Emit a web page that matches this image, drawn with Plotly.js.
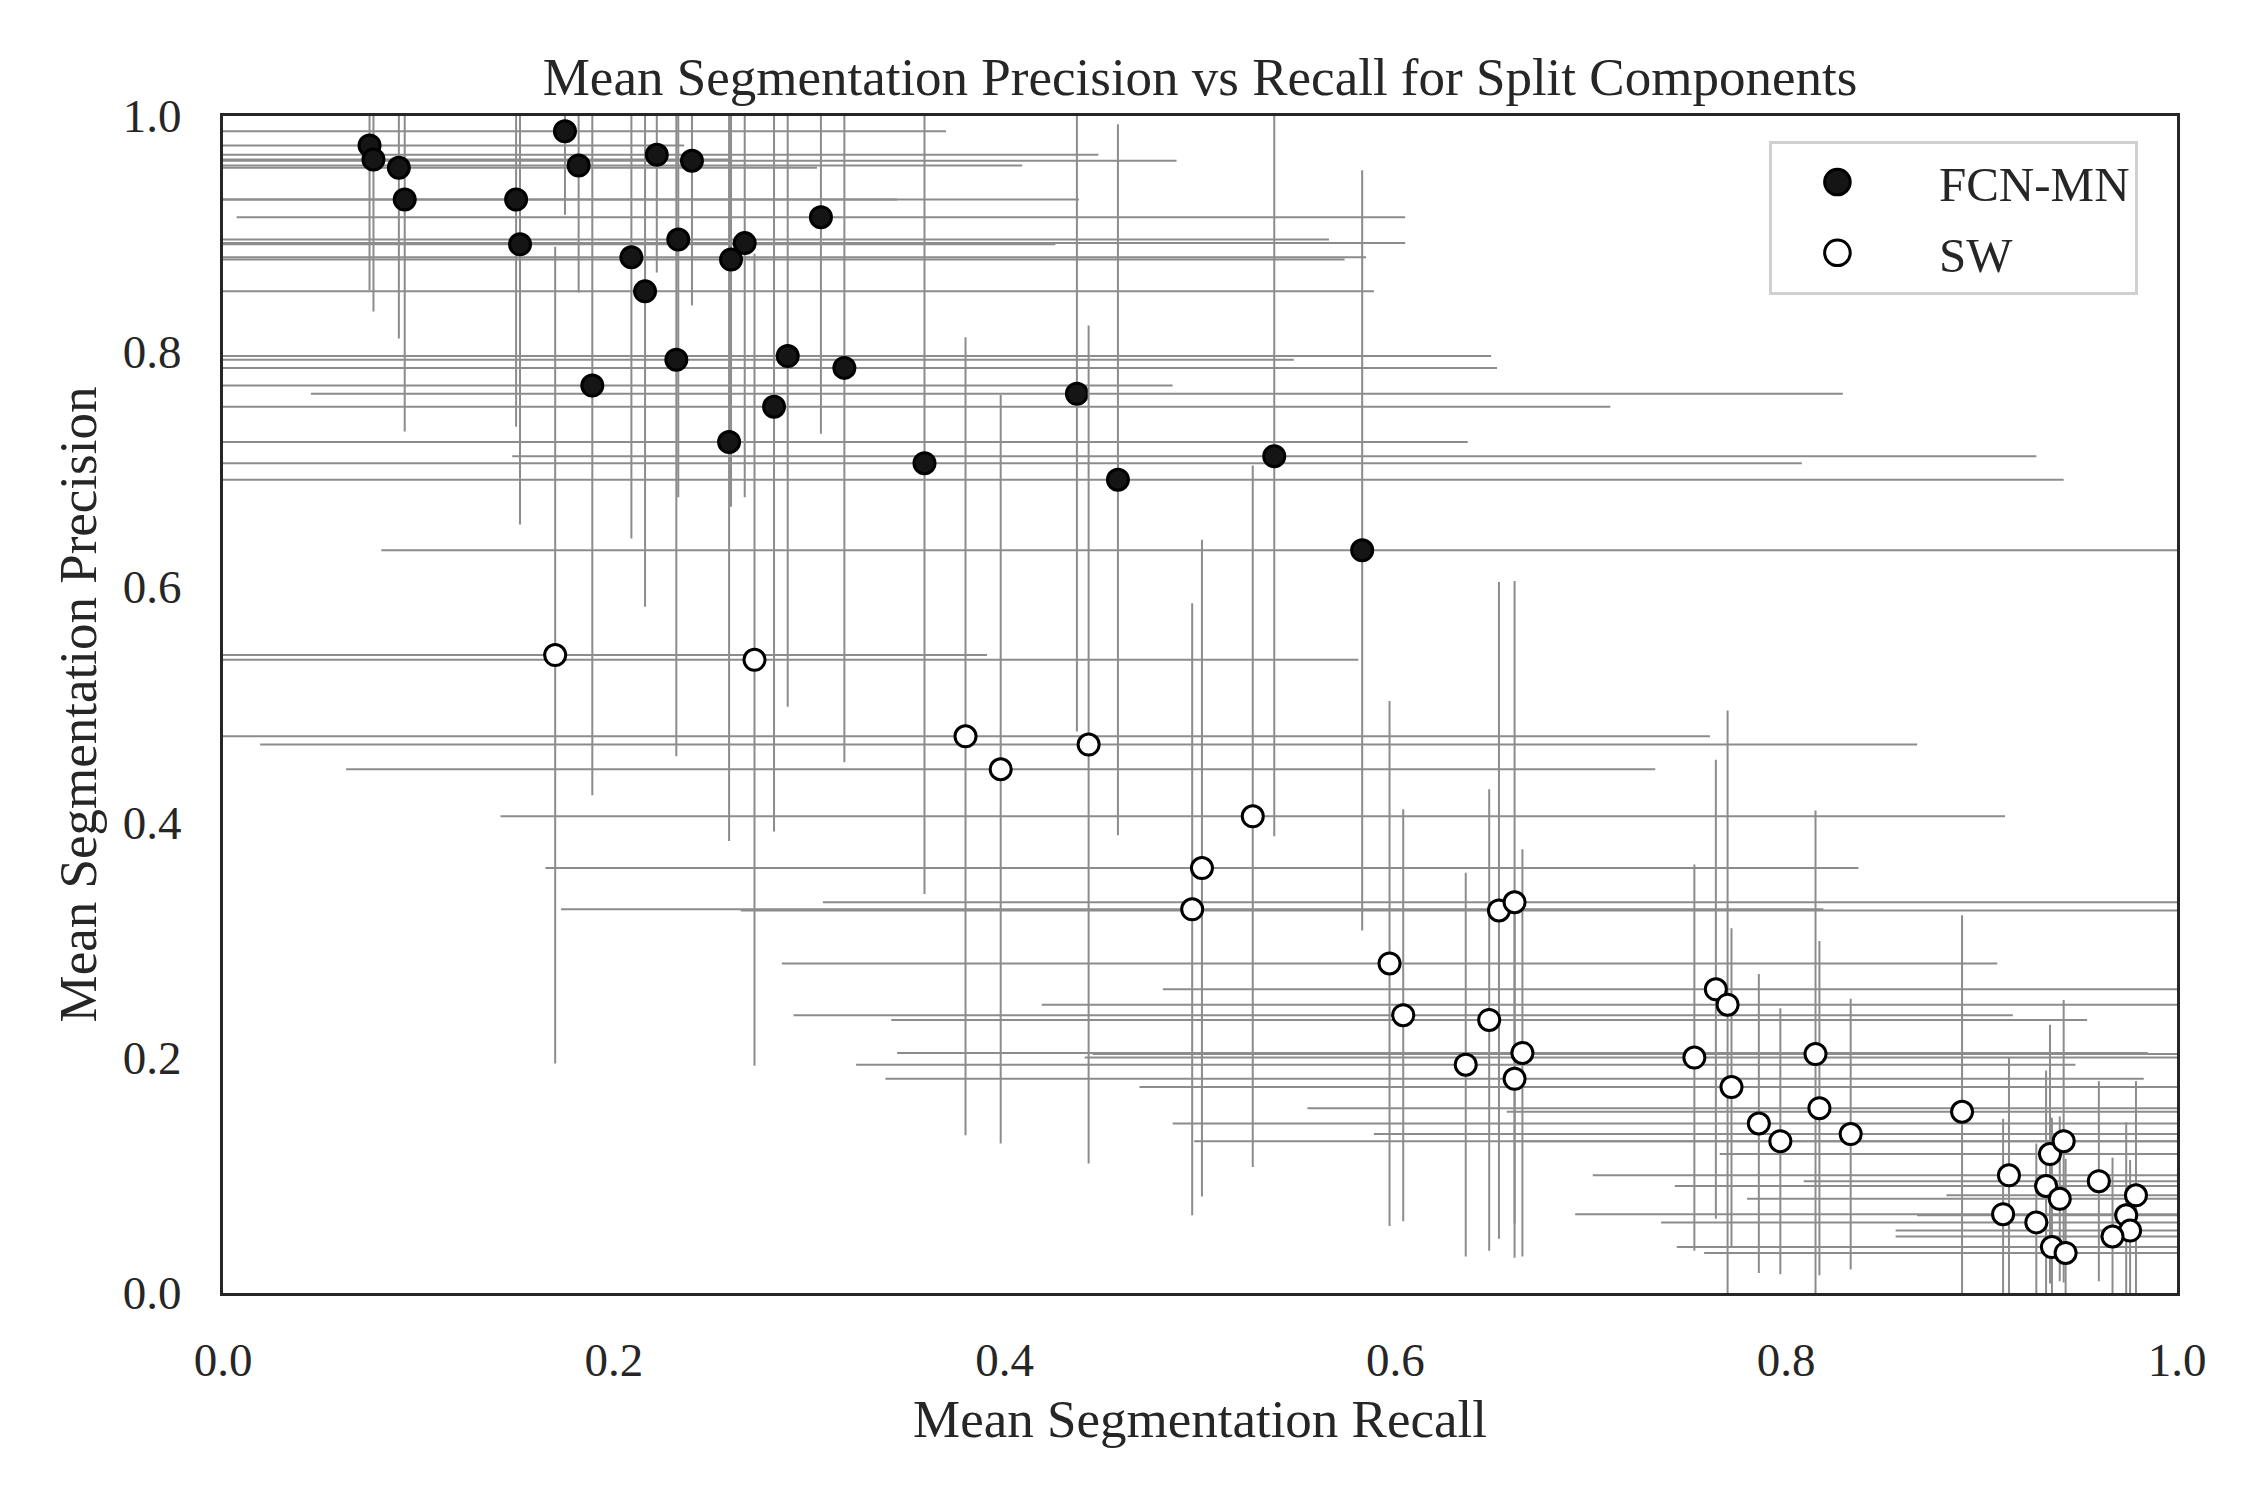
<!DOCTYPE html>
<html>
<head>
<meta charset="utf-8">
<script src="https://cdn.plot.ly/plotly-3.0.1.min.js"></script>
<style>
  html, body { margin: 0; padding: 0; background: #fff; }
  #plot { width: 2250px; height: 1500px; }
</style>
</head>
<body>
<div id="plot"></div>
<script>
// FCN-MN: mean recall / precision per component, with std
const fcnRecall = [0.075, 0.077, 0.090, 0.093, 0.175, 0.182, 0.150, 0.152, 0.222, 0.240,
  0.209, 0.216, 0.233, 0.267, 0.260, 0.306, 0.189, 0.232, 0.289, 0.318,
  0.282, 0.259, 0.359, 0.437, 0.458, 0.538, 0.583];
const fcnPrecision = [0.975, 0.963, 0.956, 0.929, 0.987, 0.958, 0.929, 0.891, 0.967, 0.962,
  0.880, 0.851, 0.895, 0.892, 0.878, 0.914, 0.771, 0.793, 0.796, 0.786,
  0.753, 0.723, 0.705, 0.764, 0.691, 0.711, 0.631];
const fcnRecallStd = [0.161, 0.183, 0.214, 0.252, 0.195, 0.227, 0.288, 0.274, 0.226, 0.248,
  0.376, 0.373, 0.333, 0.338, 0.314, 0.299, 0.297, 0.316, 0.360, 0.334,
  0.428, 0.378, 0.449, 0.392, 0.484, 0.390, 0.502];
const fcnPrecisionStd = [0.123, 0.129, 0.145, 0.197, 0.071, 0.108, 0.193, 0.238, 0.100, 0.123,
  0.239, 0.268, 0.219, 0.216, 0.210, 0.184, 0.348, 0.337, 0.298, 0.335,
  0.361, 0.339, 0.366, 0.287, 0.302, 0.323, 0.323];

// SW
const swRecall = [0.170, 0.272, 0.380, 0.398, 0.443, 0.527, 0.501, 0.496, 0.653, 0.661,
  0.597, 0.604, 0.648, 0.636, 0.665, 0.661, 0.764, 0.770, 0.753, 0.772,
  0.786, 0.797, 0.815, 0.817, 0.833, 0.890, 0.914, 0.911, 0.928, 0.935,
  0.942, 0.933, 0.940, 0.936, 0.943, 0.960, 0.979, 0.974, 0.976, 0.967];
const swPrecision = [0.542, 0.538, 0.473, 0.445, 0.466, 0.405, 0.361, 0.326, 0.325, 0.332,
  0.280, 0.236, 0.232, 0.194, 0.204, 0.182, 0.258, 0.245, 0.200, 0.175,
  0.144, 0.129, 0.203, 0.157, 0.135, 0.154, 0.100, 0.067, 0.060, 0.118,
  0.129, 0.091, 0.080, 0.039, 0.034, 0.095, 0.083, 0.066, 0.053, 0.048];
const swRecallStd = [0.221, 0.309, 0.381, 0.335, 0.424, 0.385, 0.336, 0.323, 0.388, 0.354,
  0.311, 0.312, 0.306, 0.312, 0.320, 0.322, 0.283, 0.351, 0.312, 0.303,
  0.300, 0.300, 0.370, 0.262, 0.244, 0.233, 0.213, 0.219, 0.192, 0.169,
  0.280, 0.190, 0.160, 0.192, 0.185, 0.151, 0.097, 0.107, 0.120, 0.111];
const swPrecisionStd = [0.347, 0.345, 0.339, 0.318, 0.356, 0.298, 0.279, 0.260, 0.279, 0.273,
  0.223, 0.175, 0.196, 0.163, 0.173, 0.152, 0.195, 0.250, 0.164, 0.135,
  0.127, 0.113, 0.207, 0.142, 0.115, 0.167, 0.100, 0.081, 0.067, 0.110,
  0.120, 0.098, 0.070, 0.110, 0.080, 0.085, 0.097, 0.079, 0.060, 0.067];

const ink = '#262626';
const serif = 'Liberation Serif, Times New Roman, serif';

function errBar(values) {
  return {type: 'data', symmetric: true, array: values,
    color: '#8c8c8c', thickness: 2, width: 0};
}

const fcnTrace = {
  x: fcnRecall, y: fcnPrecision, name: 'FCN-MN', legendgroup: 'fcn',
  type: 'scatter', mode: 'markers',
  error_x: errBar(fcnRecallStd),
  error_y: errBar(fcnPrecisionStd),
  marker: {size: 21, color: '#151515', line: {color: '#000', width: 3}}
};

const swTrace = {
  x: swRecall, y: swPrecision, name: 'SW', legendgroup: 'sw',
  type: 'scatter', mode: 'markers',
  error_x: errBar(swRecallStd),
  error_y: errBar(swPrecisionStd),
  marker: {size: 21, color: '#fff', line: {color: '#000', width: 3}}
};

const axisBase = {
  range: [0, 1], dtick: 0.2, tick0: 0, tickformat: '.1f',
  showgrid: false, zeroline: false,
  showline: true, mirror: true, linecolor: ink, linewidth: 3,
  ticks: 'outside', tickcolor: 'rgba(0,0,0,0)',
  tickfont: {family: serif, size: 47, color: ink}
};

const layout = {
  width: 2250, height: 1500,
  margin: {l: 223, r: 73, t: 116, b: 207},
  paper_bgcolor: '#fff', plot_bgcolor: '#fff',
  font: {family: serif, color: ink},
  title: {
    text: 'Mean Segmentation Precision vs Recall for Split Components',
    font: {family: serif, size: 53, color: ink},
    x: 0.5, xref: 'paper', y: 0.949, yref: 'container', yanchor: 'middle'
  },
  xaxis: Object.assign({}, axisBase, {
    ticklen: 24,
    title: {text: 'Mean Segmentation Recall', standoff: 15,
      font: {family: serif, size: 53, color: ink}}
  }),
  yaxis: Object.assign({}, axisBase, {
    ticklen: 29,
    title: {text: 'Mean Segmentation Precision', standoff: 10,
      font: {family: serif, size: 53, color: ink}}
  }),
  showlegend: true,
  legend: {
    x: 0.98, xanchor: 'right', y: 0.979, yanchor: 'top',
    bgcolor: '#fff', bordercolor: '#d0d0d0', borderwidth: 3,
    font: {family: serif, size: 49, color: ink},
    itemwidth: 157, tracegroupgap: 4
  }
};

Plotly.newPlot('plot', [fcnTrace, swTrace], layout, {displayModeBar: false, staticPlot: true})
  .then(function (gd) {
    // legend symbols are capped at 16px by plotly; bring them up to the marker size
    gd.querySelectorAll('.legend .legendpoints path').forEach(function (p) {
      const t = p.getAttribute('transform') || '';
      p.setAttribute('transform', t + ' translate(-18,0) scale(1.6)');
      p.style.vectorEffect = 'non-scaling-stroke';
    });
  });
</script>
</body>
</html>
